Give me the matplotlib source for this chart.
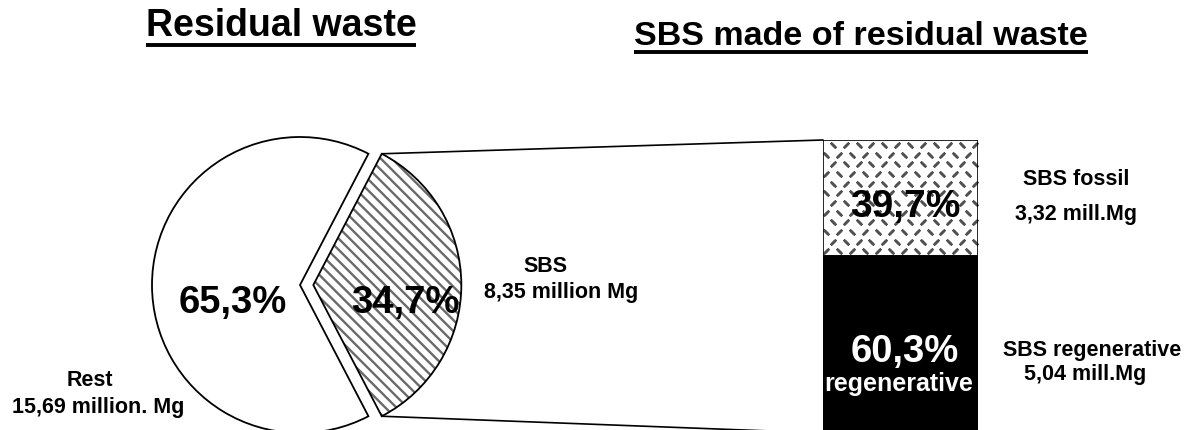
"""
Residual waste split (pie) and the SBS fraction broken down (stacked bar).
"""
import numpy as np
import matplotlib
matplotlib.use("Agg")
import matplotlib.pyplot as plt
from matplotlib.patches import Wedge, ConnectionPatch

plt.rcParams["font.family"] = ["Liberation Sans", "DejaVu Sans"]
plt.rcParams["font.weight"] = "bold"
plt.rcParams["hatch.linewidth"] = 1.7

# ─── data ───
waste_labels = ["Rest", "SBS"]
waste_share = [65.3, 34.7]                     # % of residual waste
waste_amount = ["15,69 million. Mg", "8,35 million Mg"]

sbs_labels = ["SBS regenerative", "SBS fossil"]
sbs_share = [60.3, 39.7]                       # % of SBS
sbs_amount = ["5,04 mill.Mg", "3,32 mill.Mg"]

W, H = 1193, 430


def pct(v):
    return f"{v:.1f}".replace(".", ",") + "%"


def py(y):
    # pixel rows are counted from the top, the axes from the bottom
    return H - y


fig = plt.figure(figsize=(W / 100, H / 100), dpi=100)
ax = fig.add_axes([0, 0, 1, 1])

# pie: SBS wedge centred on the right and pulled out a little
radius = 148
start = waste_share[1] / 100 * 360 / 2
wedges, _ = ax.pie(waste_share, startangle=start, counterclock=True,
                   center=(300, py(285)), radius=radius,
                   explode=[0, 0.09 * radius],  # pie shifts by this in data units
                   colors=["white", "white"], frame=True,
                   wedgeprops=dict(edgecolor="black", linewidth=1.3))
sbs_w = wedges[1]
sbs_w.set_hatch("\\\\\\")
sbs_w.set_edgecolor("#6a6a6a")
sbs_w.set_linewidth(0)
ax.add_patch(Wedge(sbs_w.center, sbs_w.r, sbs_w.theta1, sbs_w.theta2,
                   fill=False, edgecolor="black", linewidth=1.3, zorder=3))

ax.set_xlim(0, W)
ax.set_ylim(0, H)
ax.set_aspect("auto")
ax.axis("off")

# pie labels
ax.text(233, py(313), pct(waste_share[0]), ha="center", va="baseline", fontsize=27.5)
ax.text(405, py(313), pct(waste_share[1]), ha="center", va="baseline", fontsize=27.5, zorder=4)
ax.text(90, py(386), waste_labels[0], ha="center", va="baseline", fontsize=15.5)
ax.text(98, py(413), waste_amount[0], ha="center", va="baseline", fontsize=15.5)
ax.text(545, py(272), waste_labels[1], ha="center", va="baseline", fontsize=15.5)
ax.text(561, py(298), waste_amount[1], ha="center", va="baseline", fontsize=15.5)

# stacked bar in its own axes, 0..100 %
bx0, bx1, by0, by1 = 823, 978, 433, 140
ax2 = fig.add_axes([bx0 / W, py(by0) / H, (bx1 - bx0) / W, (by0 - by1) / H])
ax2.set_xlim(-0.5, 0.5)
ax2.set_ylim(0, 100)
ax2.axis("off")
ax2.bar(0, sbs_share[0], width=1, color="black", edgecolor="black", linewidth=1.2)
fossil = ax2.bar(0, sbs_share[1], bottom=sbs_share[0], width=1, color="white",
                 edgecolor="black", linewidth=1.2, zorder=3)[0]
fossil.set_facecolor("none")

# speckled texture for the fossil part: short dashes in two directions
nx, ny = 12, 12
gx = np.linspace(-0.5, 0.5, nx + 1)[:-1] + 0.5 / nx
gy = np.linspace(sbs_share[0], 100, ny + 1)[:-1] + 0.5 * sbs_share[1] / ny
for j, yv in enumerate(gy):
    xs = gx + (0.25 / nx if j % 2 else -0.25 / nx)
    for i, xv in enumerate(xs):
        ang = 45 if (i + j // 2) % 2 else -45
        ax2.scatter([xv], [yv], marker=(2, 2, ang), s=14, linewidths=1.8,
                    color="#505050", zorder=2, clip_path=fossil, clip_on=True)

# bar labels (placed in pixel space of the main axes)
ax2.text(905, py(217), pct(sbs_share[1]), transform=ax.transData,
         ha="center", va="baseline", fontsize=28, zorder=5)
ax2.text(905, py(362), pct(sbs_share[0]), transform=ax.transData, color="white",
         ha="center", va="baseline", fontsize=27.5, zorder=5)
ax2.text(899, py(391), "regenerative", transform=ax.transData, color="white",
         ha="center", va="baseline", fontsize=18, zorder=5)

ax.text(1076, py(185), sbs_labels[1], ha="center", va="baseline", fontsize=15.5)
ax.text(1076, py(220), sbs_amount[1], ha="center", va="baseline", fontsize=15.5)
ax.text(1092, py(356), sbs_labels[0], ha="center", va="baseline", fontsize=15.5)
ax.text(1085, py(380), sbs_amount[0], ha="center", va="baseline", fontsize=15.5)

# lines from the SBS wedge to the bar
cx, cy = sbs_w.center
for th, corner in [(sbs_w.theta2, (0, 1)), (sbs_w.theta1, (0, 0))]:
    p = (cx + sbs_w.r * np.cos(np.radians(th)), cy + sbs_w.r * np.sin(np.radians(th)))
    con = ConnectionPatch(xyA=p, coordsA=ax.transData, xyB=corner, coordsB=ax2.transAxes,
                          color="black", linewidth=1.2)
    fig.add_artist(con)

# underlined titles
titles = [
    (281, 36, 45, "Residual waste", 27),
    (861, 45, 52, "SBS made of residual waste", 24.5),
]
texts = []
for x, yb, yu, s, fs in titles:
    t = ax.text(x, py(yb), s, ha="center", va="baseline", fontsize=fs)
    texts.append((t, yu))
fig.canvas.draw()
r = fig.canvas.get_renderer()
inv = ax.transData.inverted()
for t, yu in texts:
    bb = t.get_window_extent(r)
    (x0, _), (x1, _) = inv.transform([(bb.x0, 0), (bb.x1, 0)])
    ax.plot([x0, x1], [py(yu), py(yu)], color="black", linewidth=2.8,
            solid_capstyle="butt")

fig.savefig("out.png", dpi=100)
